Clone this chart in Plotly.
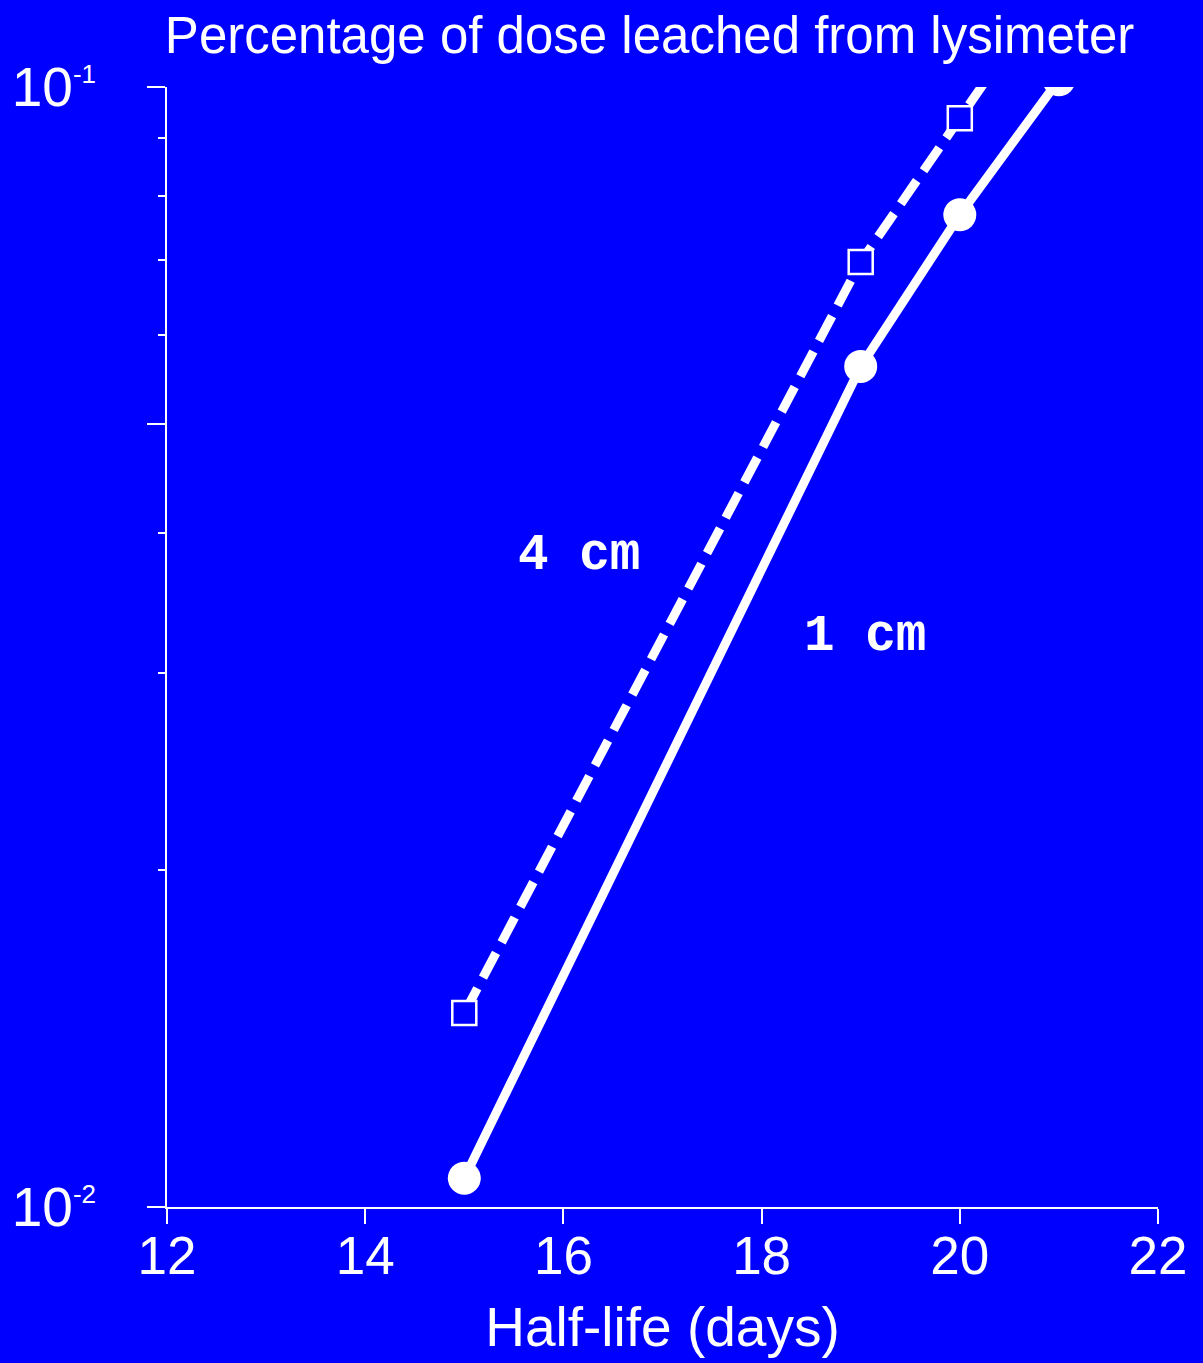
import math
import plotly.graph_objects as go

# Data
half_life = [15, 19, 20, 21]
leach_1cm = [0.01061, 0.0563, 0.0769, 0.1015]
leach_4cm = [0.0149, 0.0698, 0.0938, 0.126]

x_ticks = [12, 14, 16, 18, 20, 22]
y_major = [0.01, 0.05, 0.1]
y_major_text = ["10<sup><span style='font-size:26px'>-2</span></sup>", "",
                "10<sup><span style='font-size:26px'>-1</span></sup>"]
y_minor = [0.02, 0.03, 0.04, 0.06, 0.07, 0.08, 0.09]

labels = ["4 cm", "1 cm"]
label_x = [16.16, 19.04]
label_y = [0.0382, 0.0323]

BG = "#0000FF"
W = "white"

fig = go.Figure()
fig.add_trace(go.Scatter(
    x=half_life, y=leach_4cm, mode="lines+markers", name="4 cm",
    line=dict(color=W, width=9, dash="28px,12px"),
    marker=dict(symbol="square", size=24, color=BG, line=dict(color=W, width=2.5)),
    cliponaxis=True, showlegend=False))
fig.add_trace(go.Scatter(
    x=half_life, y=leach_1cm, mode="lines+markers", name="1 cm",
    line=dict(color=W, width=9),
    marker=dict(symbol="circle", size=33, color=W),
    cliponaxis=True, showlegend=False))

for t, lx, ly in zip(labels, label_x, label_y):
    fig.add_annotation(x=lx, y=math.log10(ly), xref="x", yref="y", text="<b>" + t + "</b>",
                       showarrow=False, font=dict(family="Liberation Mono", size=51, color=W))

fig.update_layout(
    width=1203, height=1363,
    paper_bgcolor=BG, plot_bgcolor=BG,
    margin=dict(l=163, r=45, t=87, b=156),
    font=dict(family="Liberation Sans, Arial", color=W),
    title=dict(text="Percentage of dose leached from lysimeter",
               font=dict(size=51, color=W), x=0.54, xref="container", xanchor="center",
               y=1 - 35 / 1363, yref="container", yanchor="middle"),
    xaxis=dict(range=[12, 22], tickvals=x_ticks, showgrid=False, zeroline=False,
               showline=True, linecolor=W, linewidth=2, ticks="outside", ticklen=15,
               tickwidth=2, tickcolor=W, tickfont=dict(size=53, color=W),
               ticklabelstandoff=-14,
               title=dict(text="Half-life (days)", font=dict(size=55, color=W), standoff=24)),
    yaxis=dict(type="log", range=[-2, -1], tickvals=y_major, ticktext=y_major_text,
               showgrid=False, zeroline=False, showline=True, linecolor=W, linewidth=2,
               ticks="outside", ticklen=18, tickwidth=2, tickcolor=W,
               tickfont=dict(size=55, color=W), ticklabelstandoff=40,
               minor=dict(tickvals=y_minor, ticks="outside", ticklen=7, tickwidth=2,
                          tickcolor=W, showgrid=False)),
)

fig.write_html("out.html", config={"displayModeBar": False},
               post_script="document.body.style.margin='0';document.body.style.background='#0000FF';")
